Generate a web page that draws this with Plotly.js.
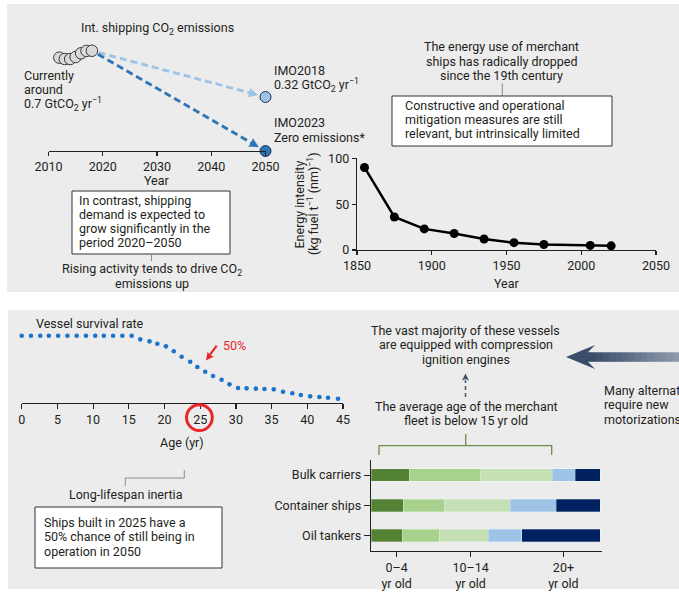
<!DOCTYPE html>
<html><head><meta charset="utf-8">
<script src="https://cdn.plot.ly/plotly-3.0.1.min.js"></script>
<style>html,body{margin:0;padding:0;background:#fff}#chart{width:679px;height:596px}</style>
</head><body><div id="chart"></div>
<script>
// ---------------- DATA ----------------
const histYears = [2012, 2013, 2014, 2015, 2016, 2017, 2018];
const histEmissions = [0.553, 0.545, 0.545, 0.557, 0.579, 0.593, 0.594];
const scenarioNames = ['IMO2018', 'IMO2023'];
const scenarioYears = [2050, 2050];
const scenarioEmissions = [0.32, 0];

const intensityYears = [1855, 1875, 1895, 1915, 1935, 1955, 1975, 2006, 2020];
const intensityValues = [90, 36, 23, 18, 12, 8, 6, 5, 4.5];

const survivalAge = [0, 1.3, 2.6, 3.8, 5.1, 6.4, 7.7, 9.0, 10.3, 11.5, 12.8, 14.1, 15.4,
  16.6, 17.9, 19.0, 20.2, 21.3, 22.4, 23.6, 24.6, 25.7, 26.8, 28.0, 29.1, 30.3, 31.5,
  32.8, 34.0, 35.3, 36.6, 37.9, 39.1, 40.4, 41.7, 42.9, 44.3];
const survivalRate = [1, 1, 1, 1, 1, 1, 1, 1, 1, 1, 1, 1, 1,
  0.946, 0.916, 0.881, 0.842, 0.768, 0.688, 0.614, 0.535, 0.465, 0.401, 0.346, 0.277,
  0.223, 0.218, 0.213, 0.208, 0.203, 0.168, 0.144, 0.119, 0.099, 0.089, 0.079, 0.064];

const fleetTypes = ['Bulk carriers', 'Container ships', 'Oil tankers'];
const ageBands = ['0–4 yr', '5–9 yr', '10–14 yr', '15–19 yr', '20+ yr'];
const share0to4 = [16.7, 14.0, 13.7];
const share5to9 = [31.2, 18.0, 16.0];
const share10to14 = [31.3, 28.7, 21.4];
const share15to19 = [9.9, 20.1, 14.8];
const share20plus = [10.9, 19.2, 34.1];
const ageTickLabels = ['0–4<br>yr old', '10–14<br>yr old', '20+<br>yr old'];

// ---------------- HELPERS ----------------
const W = 679, H = 596;
const fx = x => x / W;
const fy = y => 1 - y / H;
const TXT = '#231f20';
const FONT = 'Roboto, "Noto Sans", sans-serif';
const FS = 12.5;
const annotations = [];
const shapes = [];
function addLines(lines, x, y0, dy, anchor, extra) {
  lines.forEach((t, i) => annotations.push(Object.assign({
    text: t, xref: 'paper', yref: 'paper', x: fx(x), y: fy(y0 + i * dy),
    xanchor: anchor, yanchor: 'middle', showarrow: false, borderpad: 0,
    font: {size: FS, color: TXT, family: FONT}
  }, extra || {})));
}
function rect(x0, y0, x1, y1, fill, line, layer) {
  shapes.push({type: 'rect', xref: 'paper', yref: 'paper', x0: fx(x0), x1: fx(x1), y0: fy(y1), y1: fy(y0),
    fillcolor: fill, line: line || {width: 0}, layer: layer || 'below'});
}
function pathPx(pts, color, width, dash) {
  const d = pts.map((p, i) => (i ? 'L' : 'M') + fx(p[0]) + ',' + fy(p[1])).join(' ');
  shapes.push({type: 'path', xref: 'paper', yref: 'paper', path: d, line: {color: color, width: width, dash: dash || 'solid'}, layer: 'above'});
}
function polyPx(pts, color) {
  const d = pts.map((p, i) => (i ? 'L' : 'M') + fx(p[0]) + ',' + fy(p[1])).join(' ') + ' Z';
  shapes.push({type: 'path', xref: 'paper', yref: 'paper', path: d, fillcolor: color, line: {width: 0}, layer: 'above'});
}
// arrowhead triangle: tip (tx,ty), unit direction (ux,uy) pointing toward tip
function headPx(tx, ty, ux, uy, len, hw, color) {
  const bx = tx - ux * len, by = ty - uy * len;
  polyPx([[tx, ty], [bx - uy * hw, by + ux * hw], [bx + ux * 1.5, by + uy * 1.5], [bx + uy * hw, by - ux * hw]], color);
}

// panel backgrounds
rect(7, 4, 679, 292, '#ececec');
rect(8, 310, 679, 589, '#ececec');

// ---------------- AXES ----------------
const emisX0 = 48.5, emisX1 = 265.5, emisYbase = 151, emisScale = 168.75;
const axisCommon = {showline: true, linecolor: '#222', linewidth: 1.3, ticks: 'outside', tickcolor: '#222',
  tickwidth: 1.2, showgrid: false, zeroline: false, tickfont: {size: FS, color: TXT, family: FONT}, fixedrange: true};

const layout = {
  width: W, height: H, autosize: false,
  margin: {l: 0, r: 0, t: 0, b: 0},
  paper_bgcolor: '#ffffff', plot_bgcolor: 'rgba(0,0,0,0)',
  showlegend: false,
  font: {family: FONT, size: FS, color: TXT},
  barmode: 'stack', bargap: 0.58,
  xaxis: Object.assign({}, axisCommon, {domain: [fx(emisX0), fx(emisX1)], range: [2010, 2050], tickvals: [2010, 2020, 2030, 2040, 2050], ticklen: 4, anchor: 'y'}),
  yaxis: {domain: [fy(emisYbase), fy(30)], range: [0, 121 / emisScale], visible: false, anchor: 'x', fixedrange: true},
  xaxis2: Object.assign({}, axisCommon, {domain: [fx(357), fx(656)], range: [1850, 2050], tickvals: [1850, 1900, 1950, 2000, 2050], ticklen: 4, anchor: 'y2'}),
  yaxis2: Object.assign({}, axisCommon, {domain: [fy(250), fy(158.3)], range: [0, 100], tickvals: [0, 50, 100], ticklen: 4, anchor: 'x2'}),
  xaxis3: Object.assign({}, axisCommon, {domain: [fx(21.7), fx(343)], range: [0, 45], tickvals: [0, 5, 10, 15, 20, 25, 30, 35, 40, 45], ticklen: 5, anchor: 'y3'}),
  yaxis3: {domain: [fy(403), fy(325)], range: [0, 78 / 67.3], visible: false, anchor: 'x3', fixedrange: true},
  xaxis4: Object.assign({}, axisCommon, {domain: [fx(371), fx(601.7)], range: [0, 100.7], tickvals: [11.2, 43.5, 84], ticktext: ageTickLabels, ticklen: 5, anchor: 'y4'}),
  yaxis4: Object.assign({}, axisCommon, {domain: [fy(550.7), fy(460)], autorange: 'reversed', type: 'category', ticklen: 6, anchor: 'x4'}),
  annotations: annotations,
  shapes: shapes
};

// ---------------- TRACES ----------------
const traces = [];
const lastYear = histYears[histYears.length - 1];
const lastVal = histEmissions[histEmissions.length - 1];
const pxX = yr => emisX0 + (yr - 2010) * (emisX1 - emisX0) / 40;
const pxY = v => emisYbase - v * emisScale;
const dashColors = ['#9dc3e6', '#2e75b6'];
scenarioNames.forEach((nm, i) => {
  const ex = pxX(scenarioYears[i]), ey = pxY(scenarioEmissions[i]);
  const dxp = ex - pxX(lastYear), dyp = ey - pxY(lastVal);
  const len = Math.hypot(dxp, dyp);
  const ux = dxp / len, uy = dyp / len;
  const t0 = 7 / len, t1 = 1 - 15 / len;
  traces.push({
    x: [lastYear + (scenarioYears[i] - lastYear) * t0, lastYear + (scenarioYears[i] - lastYear) * t1],
    y: [lastVal + (scenarioEmissions[i] - lastVal) * t0, lastVal + (scenarioEmissions[i] - lastVal) * t1],
    xaxis: 'x', yaxis: 'y', mode: 'lines', cliponaxis: false, hoverinfo: 'skip',
    line: {color: dashColors[i], width: 2.8, dash: '7px,4px'}
  });
  headPx(ex - ux * 7.5, ey - uy * 7.5, ux, uy, 10, 4.8, dashColors[i]);
});
traces.push({
  x: histYears, y: histEmissions, xaxis: 'x', yaxis: 'y', mode: 'markers', cliponaxis: false,
  marker: {size: 11.5, color: '#dadada', line: {color: '#3a3a3a', width: 1}}
});
traces.push({
  x: scenarioYears, y: scenarioEmissions, xaxis: 'x', yaxis: 'y', mode: 'markers', cliponaxis: false,
  marker: {size: 11, color: ['#9dc3e6', '#2e75b6'], line: {color: '#1f3050', width: 1}}
});
traces.push({
  x: intensityYears, y: intensityValues, xaxis: 'x2', yaxis: 'y2', mode: 'lines+markers', cliponaxis: false,
  line: {color: '#000', width: 2.5}, marker: {size: 9, color: '#000'}
});
traces.push({
  x: survivalAge, y: survivalRate, xaxis: 'x3', yaxis: 'y3', mode: 'markers', cliponaxis: false,
  marker: {size: 4.6, color: '#1b74c8'}
});
const shareArrays = [share0to4, share5to9, share10to14, share15to19, share20plus];
const barColors = ['#548235', '#a9d18e', '#c5e0b4', '#9dc3e6', '#002060'];
shareArrays.forEach((arr, i) => traces.push({
  type: 'bar', orientation: 'h', name: ageBands[i], x: arr, y: fleetTypes, xaxis: 'x4', yaxis: 'y4',
  marker: {color: barColors[i], line: {color: 'rgba(255,255,255,0.35)', width: 0.8}}
}));

// ---------------- TEXT & DECORATIONS ----------------
// top-left
addLines(['Int. shipping CO<sub>2</sub> emissions'], 157.5, 28.3, 0, 'center');
addLines(['Currently', 'around', '0.7 GtCO<sub>2</sub> yr<sup>−1</sup>'], 23, 75, 14.6, 'left');
addLines(['IMO2018', '0.32 GtCO<sub>2</sub> yr<sup>−1</sup>'], 272.5, 70, 15, 'left');
addLines(['IMO2023', 'Zero emissions*'], 272.5, 122.8, 14.2, 'left');
addLines(['Year'], 157, 181, 0, 'center');
rect(72, 191, 230, 254, '#ffffff', {color: '#333', width: 1}, 'above');
addLines(['In contrast, shipping', 'demand is expected to', 'grow significantly in the', 'period 2020–2050'], 78, 200.8, 14, 'left');
pathPx([[151.5, 254], [151.5, 261]], '#8c8c8c', 1);
addLines(['Rising activity tends to drive CO<sub>2</sub>', 'emissions up'], 152, 269.5, 14.2, 'center');

// top-right
addLines(['The energy use of merchant', 'ships has radically dropped', 'since the 19th century'], 501.7, 46.7, 14.5, 'center');
pathPx([[502.3, 83.3], [502.3, 96]], '#8c8c8c', 1);
rect(392, 96, 612, 146, '#ffffff', {color: '#333', width: 1}, 'above');
addLines(['Constructive and operational', 'mitigation measures are still', 'relevant, but intrinsically limited'], 404.3, 105, 14.2, 'left');
addLines(['Energy intensity'], 299.5, 205, 0, 'center', {textangle: -90});
addLines(['(kg fuel t<sup>−1</sup> (nm)<sup>−1</sup>)'], 313.5, 203.5, 0, 'center', {textangle: -90});
addLines(['Year'], 506.5, 283, 0, 'center');

// bottom-left
addLines(['Vessel survival rate'], 35, 323.3, 0, 'left');
addLines(['50%'], 221.7, 345, 0, 'left', {font: {size: FS, color: '#e8262b', family: FONT}});
pathPx([[216.7, 345.7], [209.5, 355.3]], '#e8262b', 2.2);
headPx(206, 360.5, -0.6, 0.8, 8, 4, '#e8262b');
shapes.push({type: 'circle', xref: 'paper', yref: 'paper', x0: fx(186.5), x1: fx(212.3), y0: fy(430.5), y1: fy(404.7),
  line: {color: '#e8262b', width: 3}, layer: 'above'});
addLines(['Age (yr)'], 182, 442, 0, 'center');
pathPx([[184.3, 470], [184.3, 478], [125.3, 478], [125.3, 486]], '#8c8c8c', 1);
addLines(['Long-lifespan inertia'], 125.8, 494.3, 0, 'center');
rect(35, 507, 222, 568, '#ffffff', {color: '#333', width: 1}, 'above');
addLines(['Ships built in 2025 have a', '50% chance of still being in', 'operation in 2050'], 43.3, 522.3, 14.4, 'left');

// bottom-right
addLines(['The vast majority of these vessels', 'are equipped with compression', 'ignition engines'], 465.8, 330, 14.6, 'center');
pathPx([[465.5, 397], [465.5, 380]], '#44546a', 1.5, '4px,3px');
headPx(465.5, 373.5, 0, -1, 7, 3.5, '#44546a');
addLines(['The average age of the merchant', 'fleet is below 15 yr old'], 466.3, 406.6, 14.2, 'center');
pathPx([[379, 455], [379, 445.7], [551.7, 445.7], [551.7, 455]], '#6b8e4e', 1.3);
pathPx([[465.7, 445.7], [465.7, 434]], '#6b8e4e', 1.3);

// big gradient arrow
(function () {
  const c0 = [58, 77, 106], c1 = [141, 153, 171];
  const xs = 590, xe = 679, n = 14;
  for (let k = 0; k < n; k++) {
    const a = xs + (xe - xs) * k / n, b = xs + (xe - xs) * (k + 1) / n + 0.6;
    const t = k / (n - 1);
    const c = c0.map((v, j) => Math.round(v + (c1[j] - v) * t));
    rect(a, 352.3, b, 361.8, 'rgb(' + c.join(',') + ')', {width: 0}, 'above');
  }
  polyPx([[566, 357], [595, 345], [588, 352.3], [591, 352.3], [591, 361.8], [588, 361.8], [595, 369]], 'rgb(58,77,106)');
})();
addLines(['Many alternative fuels', 'require new', 'motorizations'], 603.3, 390.5, 14.3, 'left');

Plotly.newPlot('chart', traces, layout, {staticPlot: true, displayModeBar: false});
</script>
</body></html>
